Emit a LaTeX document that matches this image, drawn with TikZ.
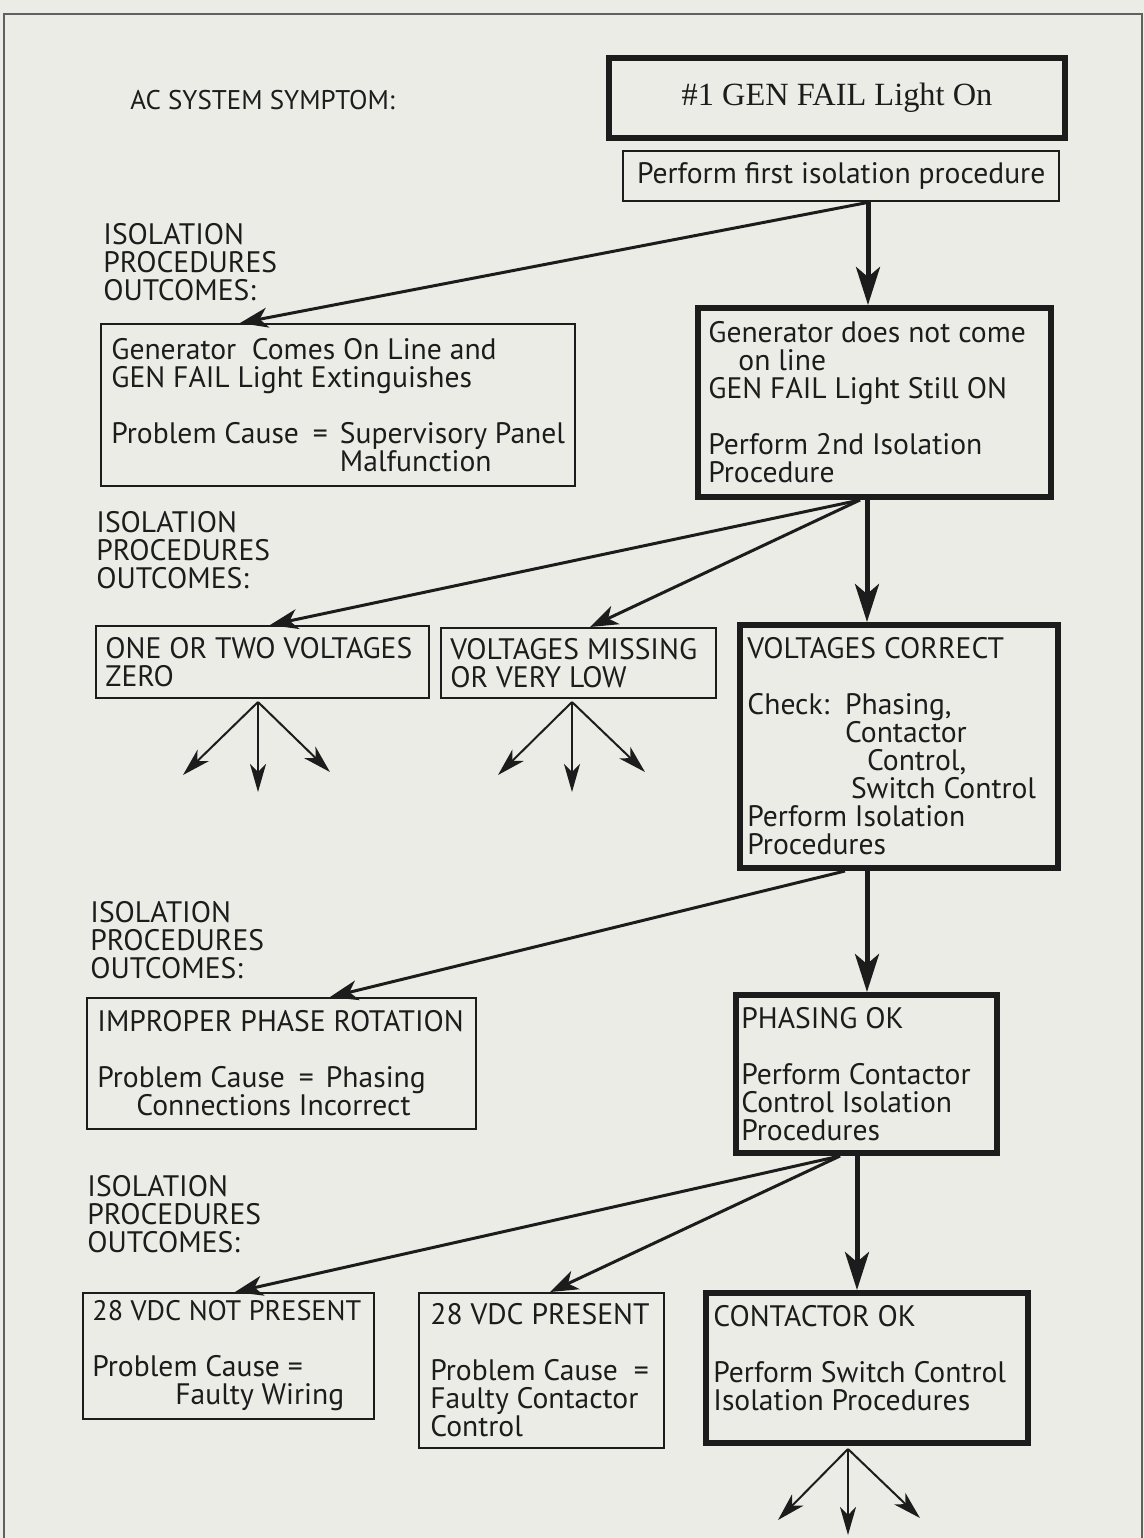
\documentclass[tikz,border=0pt]{standalone}
\usepackage{fontspec}
\setsansfont{PT Sans}
\newfontfamily\titlefont{Liberation Serif}
\usetikzlibrary{arrows.meta,calc}
\definecolor{paper}{RGB}{236,236,230}
\definecolor{ink}{RGB}{28,28,28}
\newcommand{\eqsep}{\hspace{7pt}=\hspace{6pt}}
\begin{document}
\begin{tikzpicture}[x=0.5pt,y=-0.5pt,
  box/.style={draw=ink, line width=1pt, anchor=north west, inner sep=0pt},
  keybox/.style={box, line width=3pt},
  txt/.style={anchor=west, align=left, inner sep=0pt, text=ink,
    font=\sffamily\fontsize{14.8}{14}\selectfont},
  main/.style={draw=ink, line width=2.5pt, -{Stealth[length=19pt,width=12pt,inset=5pt]}},
  side/.style={draw=ink, line width=1.5pt, -{Stealth[length=14pt,width=10pt,inset=4pt]}},
  fan/.style={draw=ink, line width=1pt, -{Stealth[length=14pt,width=8pt,inset=4pt]}},
]
% page and frame
\fill[paper] (0,0) rectangle (1144,1538);
\useasboundingbox (0,0) rectangle (1144,1538);
\draw[ink!70, line width=1pt] (4,1538) -- (4,14) -- (1142,14) -- (1142,1538);

% symptom row
\node[txt, font=\sffamily\fontsize{13.5}{14}\selectfont] (symlabel) at (130,100) {AC SYSTEM SYMPTOM:};
\node[keybox, minimum width=228pt, minimum height=40pt, text=ink,
  font=\titlefont\fontsize{16.2}{18}\selectfont] (symptom) at (606,55) {\#1 GEN FAIL Light On};
\node[box, line width=1.2pt, minimum width=218pt, minimum height=25pt, text=ink,
  font=\sffamily\fontsize{14.8}{14}\selectfont] (first) at (622,150) {Perform first isolation procedure};

% first outcomes
\node[txt] (lab1) at (103,262) {ISOLATION\\PROCEDURES\\OUTCOMES:};
\node[box, minimum width=237pt, minimum height=81pt] (gen_on) at (100,323) {};
\node[txt] (gen_on-t) at ([xshift=5.5pt]gen_on.west)
  {Generator\ \ Comes On Line and\\GEN FAIL Light Extinguishes\\[14pt]
   Problem Cause\eqsep Supervisory Panel\\\phantom{Problem Cause\eqsep}Malfunction};
\node[keybox, minimum width=176.5pt, minimum height=94.5pt] (gen_not) at (695,305) {};
\node[txt] (gen_not-t) at ([xshift=6.5pt]gen_not.west)
  {Generator does not come\\\hspace*{15pt}on line\\GEN FAIL Light Still ON\\[14pt]
   Perform 2nd Isolation\\Procedure};

% second outcomes
\node[txt] (lab2) at (96,550) {ISOLATION\\PROCEDURES\\OUTCOMES:};
\node[box, minimum width=166.5pt, minimum height=36pt] (zero) at (95,625) {};
\node[txt] (zero-t) at ([xshift=5pt]zero.west) {ONE OR TWO VOLTAGES\\ZERO};
\node[box, minimum width=137.5pt, minimum height=35pt] (missing) at (440,627) {};
\node[txt] (missing-t) at ([xshift=5pt]missing.west) {VOLTAGES MISSING\\OR VERY LOW};
\node[keybox, minimum width=159pt, minimum height=121.5pt] (correct) at (737,622) {};
\node[txt] (correct-t) at ([xshift=5pt]correct.west)
  {VOLTAGES CORRECT\\[14pt]
   Check:\ \ Phasing,\\
   \phantom{Check:\ \ }Contactor\\
   \phantom{Check:\ \ }\hspace*{11pt}Control,\\
   \phantom{Check:\ \ }\hspace*{3pt}Switch Control\\
   Perform Isolation\\Procedures};

% third outcomes
\node[txt] (lab3) at (90,940) {ISOLATION\\PROCEDURES\\OUTCOMES:};
\node[box, minimum width=194.5pt, minimum height=65.5pt] (improper) at (86,997) {};
\node[txt] (improper-t) at ([xshift=5.5pt]improper.west)
  {IMPROPER PHASE ROTATION\\[14pt]
   Problem Cause\eqsep Phasing\\\hspace*{19.5pt}Connections Incorrect};
\node[keybox, minimum width=130.5pt, minimum height=79pt] (phasing) at (733,992) {};
\node[txt] (phasing-t) at ([xshift=4pt]phasing.west)
  {PHASING OK\\[14pt]Perform Contactor\\Control Isolation\\Procedures};

% fourth outcomes
\node[txt] (lab4) at (87,1214) {ISOLATION\\PROCEDURES\\OUTCOMES:};
\node[box, minimum width=145.5pt, minimum height=63pt] (notpresent) at (82,1292) {};
\node[txt] (notpresent-t) at ([xshift=5pt]notpresent.west)
  {{\fontsize{14.1}{14}\selectfont 28 VDC NOT PRESENT}\\[14pt]Problem Cause =\\\hspace*{41.5pt}Faulty Wiring};
\node[box, minimum width=122.5pt, minimum height=77.5pt] (present) at (418,1292) {};
\node[txt] (present-t) at ([xshift=6pt]present.west)
  {28 VDC PRESENT\\[14pt]Problem Cause\ \ =\\Faulty Contactor\\Control};
\node[keybox, minimum width=161pt, minimum height=75pt] (contactor) at (703,1290) {};
\node[txt] (contactor-t) at ([xshift=5pt,yshift=5pt]contactor.west)
  {CONTACTOR OK\\[14pt]Perform Switch Control\\Isolation Procedures};

% connectors
\draw[main] ([shift={(246,0)}]first.south west) -- ([shift={(173,0)}]gen_not.north west);
\draw[side] ([shift={(246,0)}]first.south west) -- ([shift={(140,0)}]gen_on.north west);

\draw[main] ([shift={(172,0)}]gen_not.south west) -- ([shift={(130,0)}]correct.north west);
\draw[side] ([shift={(165,0)}]gen_not.south west) -- ([shift={(175,0)}]zero.north west);
\draw[side] ([shift={(165,0)}]gen_not.south west) -- ([shift={(150,0)}]missing.north west);

\draw[main] ([shift={(130,0)}]correct.south west) -- ([shift={(134,0)}]phasing.north west);
\draw[side] ([shift={(108,0)}]correct.south west) -- ([shift={(244,0)}]improper.north west);

\draw[main] ([shift={(124,0)}]phasing.south west) -- ([shift={(154,0)}]contactor.north west);
\draw[side] ([shift={(107,0)}]phasing.south west) -- ([shift={(153,0)}]notpresent.north west);
\draw[side] ([shift={(107,0)}]phasing.south west) -- ([shift={(132,0)}]present.north west);

% open-ended branches
\coordinate (z1) at (183,775); \coordinate (z2) at (258,792); \coordinate (z3) at (330,772);
\coordinate (m1) at (498,775); \coordinate (m2) at (572,792); \coordinate (m3) at (645,772);
\coordinate (c1) at (778,1520); \coordinate (c2) at (848,1535); \coordinate (c3) at (920,1518);
\foreach \e in {z1,z2,z3} \draw[fan] ([shift={(163,3)}]zero.south west) -- (\e);
\foreach \e in {m1,m2,m3} \draw[fan] ([shift={(132,3)}]missing.south west) -- (\e);
\foreach \e in {c1,c2,c3} \draw[fan] ([shift={(145,3)}]contactor.south west) -- (\e);
\end{tikzpicture}
\end{document}
